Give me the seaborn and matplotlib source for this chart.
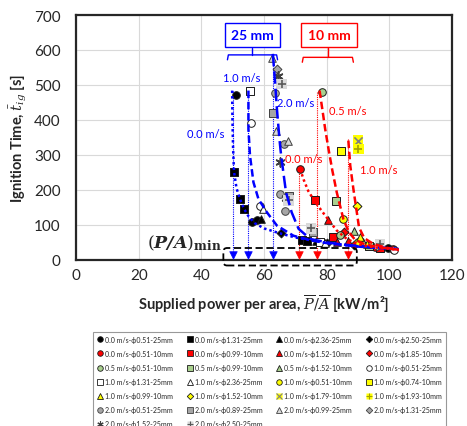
import matplotlib
matplotlib.use("Agg")
import matplotlib.pyplot as plt
import seaborn as sns
from matplotlib.lines import Line2D
from matplotlib.patches import FancyBboxPatch
from matplotlib.legend_handler import HandlerTuple

# ---------------- data (x: P/A [kW/m2], y: ignition time [s]) ----------------
labels = ["0.0 m/s-ϕ0.51-25mm", "0.0 m/s-ϕ1.31-25mm", "0.0 m/s-ϕ2.36-25mm", "0.0 m/s-ϕ2.50-25mm",
          "0.0 m/s-ϕ0.51-10mm", "0.0 m/s-ϕ0.99-10mm", "0.0 m/s-ϕ1.52-10mm", "0.0 m/s-ϕ1.85-10mm",
          "0.5 m/s-ϕ0.51-10mm", "0.5 m/s-ϕ0.99-10mm", "0.5 m/s-ϕ1.52-10mm", "1.0 m/s-ϕ0.51-25mm",
          "1.0 m/s-ϕ1.31-25mm", "1.0 m/s-ϕ2.36-25mm", "1.0 m/s-ϕ0.51-10mm", "1.0 m/s-ϕ0.74-10mm",
          "1.0 m/s-ϕ0.99-10mm", "1.0 m/s-ϕ1.52-10mm", "1.0 m/s-ϕ1.79-10mm", "1.0 m/s-ϕ1.93-10mm",
          "2.0 m/s-ϕ0.51-25mm", "2.0 m/s-ϕ0.89-25mm", "2.0 m/s-ϕ0.99-25mm", "2.0 m/s-ϕ1.31-25mm",
          "2.0 m/s-ϕ1.52-25mm", "2.0 m/s-ϕ2.50-25mm"]

s01_x = [51.1, 56.1, 57.6, 99.5];        s01_y = [472, 108, 113, 33]
s02_x = [50.4, 52.3, 53.6, 72.0, 73.8];  s02_y = [252, 174, 146, 57, 55]
s03_x = [59.0, 76.5];                    s03_y = [118, 55]
s04_x = [65.4, 80.0];                    s04_y = [77, 48]
s05_x = [71.5, 95.5, 101.0];             s05_y = [260, 36, 30]
s06_x = [76.1, 82.1, 97.0];              s06_y = [171, 65, 33]
s07_x = [80.5, 83.4, 86.9];              s07_y = [115, 52, 55]
s08_x = [85.5, 88.6];                    s08_y = [79, 44]
s09_x = [78.4, 84.3];                    s09_y = [481, 71]
s10_x = [83.0, 93.5];                    s10_y = [169, 40]
s11_x = [88.7, 91.5];                    s11_y = [84, 50]
s12_x = [55.8, 58.7, 101.5];             s12_y = [391, 155, 27]
s13_x = [55.5, 78.0];                    s13_y = [484, 51]
s14_x = [59.8, 79.5];                    s14_y = [146, 48]
s15_x = [85.1, 90.0];                    s15_y = [117, 52]
s16_x = [84.6];                          s16_y = [312]
s17_x = [90.6, 93.0];                    s17_y = [65, 45]
s18_x = [89.8];                          s18_y = [155]
s19_x = [89.9];                          s19_y = [341]
s20_x = [90.1];                          s20_y = [317]
s21_x = [63.6, 66.2, 65.1, 66.7];        s21_y = [477, 331, 189, 141]
s22_x = [63.0, 67.8, 75.5];              s22_y = [420, 184, 80]
s23_x = [62.4, 63.8, 67.6];              s23_y = [578, 369, 341]
s24_x = [64.1, 96.0];                    s24_y = [546, 40]
s25_x = [64.3, 65.1, 67.0];              s25_y = [525, 279, 176]
s26_x = [65.6, 67.8, 75.0, 97.0];        s26_y = [503, 170, 90, 46]

series_x = [s01_x, s02_x, s03_x, s04_x, s05_x, s06_x, s07_x, s08_x, s09_x, s10_x, s11_x, s12_x, s13_x,
            s14_x, s15_x, s16_x, s17_x, s18_x, s19_x, s20_x, s21_x, s22_x, s23_x, s24_x, s25_x, s26_x]
series_y = [s01_y, s02_y, s03_y, s04_y, s05_y, s06_y, s07_y, s08_y, s09_y, s10_y, s11_y, s12_y, s13_y,
            s14_y, s15_y, s16_y, s17_y, s18_y, s19_y, s20_y, s21_y, s22_y, s23_y, s24_y, s25_y, s26_y]

# fitted curves
blue00_x = [49.8, 49.9, 50.1, 50.4, 51.2, 52.3, 53.6, 55.0, 57.0, 60.0, 65.0, 70.0, 80.0, 90.0, 102.0]
blue00_y = [484, 400, 320, 252, 205, 174, 146, 125, 105, 90, 76, 64, 48, 39, 33]
blue10_x = [55.0, 55.0, 55.5, 56.6, 58.2, 60.9, 64.1, 69.4, 75.0, 80.0, 90.0, 102.0]
blue10_y = [484, 374, 298, 222, 174, 136, 98, 69, 56, 48, 38, 31]
blue20_x = [62.8, 63.5, 64.1, 64.9, 65.3, 66.0, 67.0, 68.8, 71.0, 74.7, 80.0, 85.0, 95.0, 103.0]
blue20_y = [589, 508, 431, 346, 310, 260, 193, 136, 89, 60, 50, 44, 36, 31]
red00_x = [71.5, 72.6, 74.1, 76.1, 78.4, 80.5, 83.2, 86.4, 90.0, 95.0, 103.0]
red00_y = [260, 230, 197, 168, 140, 115, 84, 60, 45, 36, 29]
red05_x = [77.7, 78.6, 79.5, 80.6, 81.8, 83.2, 85.3, 87.0, 89.0, 92.0, 96.0, 103.0]
red05_y = [484, 430, 374, 315, 255, 193, 117, 80, 58, 45, 37, 29]
red10_x = [86.9, 87.5, 88.5, 89.6, 90.3, 92.0, 95.0, 99.0, 103.0]
red10_y = [341, 270, 203, 136, 93, 62, 45, 35, 28]

# minimum power per area (vertical asymptotes) and top of their guide lines
blue_pamin = [50.0, 54.8, 62.8]
blue_top = [484, 490, 589]
red_pamin = [71.1, 76.9, 86.9]
red_top = [260, 481, 345]

x_ticks = [0, 20, 40, 60, 80, 100, 120]
y_ticks = [0, 100, 200, 300, 400, 500, 600, 700]

# ---------------- styles ----------------
BLK, RED, GRN, WHT, YEL, GRY, LGR = "#000000", "#FF0000", "#A9D08E", "#FFFFFF", "#FFFF00", "#A6A6A6", "#D9D9D9"
EDG = "#1A1A1A"
styles = [
    ("o", BLK, EDG, None), ("s", BLK, EDG, None), ("^", BLK, EDG, None), ("D", BLK, EDG, None),
    ("o", RED, EDG, None), ("s", RED, EDG, None), ("^", RED, EDG, None), ("D", RED, EDG, None),
    ("o", GRN, EDG, None), ("s", GRN, EDG, None), ("^", GRN, EDG, None), ("o", WHT, EDG, None),
    ("s", WHT, EDG, None), ("^", WHT, EDG, None), ("o", YEL, EDG, None), ("s", YEL, EDG, None),
    ("^", YEL, EDG, None), ("D", YEL, EDG, None), ("x", "#808080", "#808080", YEL), ("+", "#A0A000", "#A0A000", YEL),
    ("o", GRY, "#404040", None), ("s", GRY, "#404040", None), ("^", LGR, "#404040", None), ("D", GRY, "#404040", None),
    ((6, 2, 0), "#404040", "#404040", None), ("+", "#595959", "#595959", LGR),
]

sns.set_theme(style="whitegrid")
plt.rcParams["font.family"] = ["Lato", "DejaVu Sans"]
plt.rcParams["mathtext.fontset"] = "dejavuserif"

fig = plt.figure(figsize=(4.67, 4.27), dpi=100)
ax = fig.add_axes([0.163, 0.389, 0.805, 0.5735])
ax.set_facecolor("white")

BLUE, REDL = "#0000FF", "#FF0000"

# thin guide lines + arrows at (P/A)min
for xs, tops, col in [(blue_pamin, blue_top, BLUE), (red_pamin, red_top, REDL)]:
    for xv, tv in zip(xs, tops):
        sns.lineplot(x=[xv, xv], y=[tv, 15], color=col, lw=0.8, linestyle=(0, (1, 1)),
                     ax=ax, zorder=2, sort=False, estimator=None)
    sns.scatterplot(x=xs, y=[15] * len(xs), marker="v", s=30, color=col, edgecolor=col,
                    ax=ax, zorder=5, legend=False)

# markers
for xs, ys, (m, fc, ec, bg) in zip(series_x, series_y, styles):
    if bg is not None:
        sns.scatterplot(x=xs, y=ys, marker="s", s=55, color=bg, edgecolor="none",
                        ax=ax, zorder=3, legend=False)
        sns.scatterplot(x=xs, y=ys, marker=m, s=35, color=fc, linewidth=1.2,
                        ax=ax, zorder=3, legend=False)
    elif m in ("x", "+") or isinstance(m, tuple):
        sns.scatterplot(x=xs, y=ys, marker=m, s=40, color=fc, linewidth=1.2,
                        ax=ax, zorder=3, legend=False)
    else:
        sns.scatterplot(x=xs, y=ys, marker=m, s=30 if m != "D" else 20, color=fc, edgecolor=ec,
                        linewidth=0.7, ax=ax, zorder=3, legend=False)

# fitted curves
curves = [(blue00_x, blue00_y, BLUE, (0, (1, 1.2))), (blue10_x, blue10_y, BLUE, (0, (3, 1.5))),
          (blue20_x, blue20_y, BLUE, (0, (5, 2))), (red00_x, red00_y, REDL, (0, (1, 1.2))),
          (red05_x, red05_y, REDL, (0, (3, 1.5))), (red10_x, red10_y, REDL, (0, (3, 1.5)))]
for cx, cy, col, ls in curves:
    sns.lineplot(x=cx, y=cy, color=col, lw=1.8, linestyle=ls, ax=ax, zorder=4,
                 sort=False, estimator=None)

# annotations
ax.text(56.2, 643, "25 mm", color=BLUE, fontsize=10, fontweight="bold", ha="center", va="center",
        bbox=dict(boxstyle="square,pad=0.45", fc="white", ec=BLUE, lw=1.0), zorder=6)
ax.text(80.7, 643, "10 mm", color=REDL, fontsize=10, fontweight="bold", ha="center", va="center",
        bbox=dict(boxstyle="square,pad=0.45", fc="white", ec=REDL, lw=1.0), zorder=6)
for (x0, x1, yb, cxm, col) in [(48.3, 64.3, 586, 56.2, BLUE), (72.2, 88.5, 579, 80.5, REDL)]:
    ax.plot([x0, x0 + 0.3, x1 - 0.3, x1], [yb - 14, yb, yb, yb - 14], color=col, lw=1.0, zorder=6)
    ax.plot([cxm, cxm], [yb, 606], color=col, lw=1.0, zorder=6)

for tx, ty, s, col in [(52.9, 520, "1.0 m/s", BLUE), (41.2, 362, "0.0 m/s", BLUE), (70.0, 450, "2.0 m/s", BLUE),
                       (86.7, 427, "0.5 m/s", REDL), (72.6, 291, "0.0 m/s", REDL), (96.5, 258, "1.0 m/s", REDL)]:
    ax.text(tx, ty, s, color=col, fontsize=8, ha="center", va="center", zorder=6)

ax.text(46.5, 50, r"$(\mathbfit{P/A})_{\mathbf{min}}$", fontsize=12.5, ha="right", va="center", zorder=6)
box = FancyBboxPatch((47.0, -16), 42.6, 50, boxstyle="round,pad=0,rounding_size=1.2",
                     mutation_aspect=8.95, fill=False, ec="black", lw=1.3,
                     linestyle=(0, (4, 2)), clip_on=False, zorder=7)
ax.add_patch(box)

# axes
ax.set_xlim(0, 120)
ax.set_ylim(0, 700)
ax.set_xticks(x_ticks)
ax.set_yticks(y_ticks)
ax.grid(True, color="#D9D9D9", lw=0.8)
ax.set_axisbelow(True)
for sp in ax.spines.values():
    sp.set_color("#262626")
    sp.set_linewidth(1.6)
ax.tick_params(axis="both", labelsize=11, colors="#262626", length=0)
ax.tick_params(axis="y", pad=11)
ax.tick_params(axis="x", pad=6)
ax.set_xlabel(r"Supplied power per area, $\overline{P}/\overline{A}$ [kW/m²]", fontsize=10.5,
              fontweight="bold", color="#262626", labelpad=7)
ax.set_ylabel(r"Ignition Time, $\bar{t}_{ig}$ [s]", fontsize=10.5, fontweight="bold",
              color="#262626", labelpad=4)

# legend (row-major like the original)
handles = []
for (m, fc, ec, bg) in styles:
    if bg is not None:
        h = (Line2D([], [], marker="s", ls="None", mfc=bg, mec="none", ms=5),
             Line2D([], [], marker=m, ls="None", mec=fc, mew=0.8, ms=4))
    elif m in ("x", "+") or isinstance(m, tuple):
        h = Line2D([], [], marker=m, ls="None", mec=fc, mew=0.8, ms=4.5)
    else:
        h = Line2D([], [], marker=m, ls="None", mfc=fc, mec=ec, mew=0.6, ms=4 if m != "D" else 3.3)
    handles.append(h)
order = [i for c in range(4) for i in range(c, len(labels), 4)]
leg = fig.legend([handles[i] for i in order], [labels[i] for i in order], ncol=4,
                 loc="upper left", bbox_to_anchor=(0.200, 0.221), fontsize=5,
                 handler_map={tuple: HandlerTuple(ndivide=1)}, frameon=True, fancybox=False,
                 handlelength=0.8, handletextpad=0.3, columnspacing=2.0, labelspacing=1.02,
                 borderpad=0.6, borderaxespad=0)
leg.get_frame().set_edgecolor("#808080")
leg.get_frame().set_linewidth(0.8)

fig.savefig("out.png", dpi=100)
